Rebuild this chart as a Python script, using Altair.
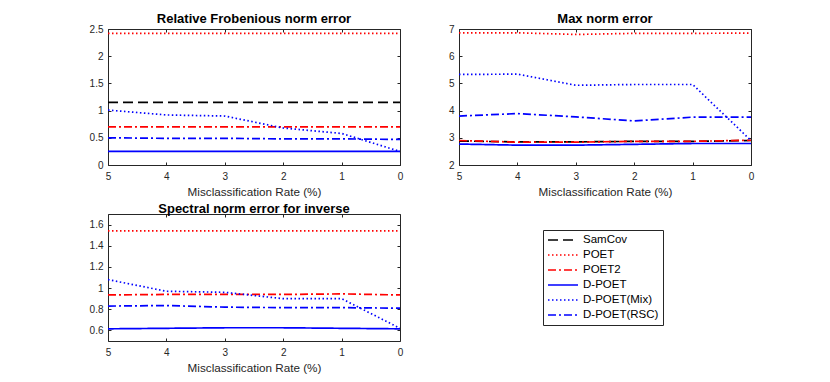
import altair as alt
import pandas as pd

rates = [5, 4, 3, 2, 1, 0]
methods = ["SamCov", "POET", "POET2", "D-POET", "D-POET(Mix)", "D-POET(RSC)"]
colors = ["#000000", "#ff0000", "#ff0000", "#0000ff", "#0000ff", "#0000ff"]
dashes = [[10, 5], [1.5, 2.5], [8, 3, 2, 3], [1, 0], [1.5, 2.5], [8, 3, 2, 3]]

# Relative Frobenius norm error
fro_samcov = [1.15, 1.15, 1.15, 1.15, 1.15, 1.15]
fro_poet = [2.42, 2.42, 2.42, 2.42, 2.42, 2.42]
fro_poet2 = [0.70, 0.70, 0.70, 0.70, 0.70, 0.70]
fro_dpoet = [0.25, 0.25, 0.25, 0.25, 0.25, 0.25]
fro_mix = [1.01, 0.92, 0.90, 0.68, 0.58, 0.25]
fro_rsc = [0.50, 0.49, 0.49, 0.48, 0.48, 0.47]

# Max norm error
max_samcov = [2.88, 2.85, 2.85, 2.87, 2.87, 2.90]
max_poet = [6.86, 6.86, 6.80, 6.84, 6.84, 6.85]
max_poet2 = [2.90, 2.84, 2.84, 2.87, 2.87, 2.91]
max_dpoet = [2.77, 2.73, 2.73, 2.76, 2.79, 2.79]
max_mix = [5.33, 5.34, 4.93, 4.96, 4.96, 2.90]
max_rsc = [3.80, 3.89, 3.77, 3.62, 3.76, 3.76]

# Spectral norm error for inverse (SamCov not shown)
inv_poet = [1.54, 1.54, 1.54, 1.54, 1.54, 1.54]
inv_poet2 = [0.935, 0.94, 0.94, 0.94, 0.945, 0.935]
inv_dpoet = [0.615, 0.62, 0.625, 0.625, 0.62, 0.615]
inv_mix = [1.08, 0.97, 0.96, 0.90, 0.90, 0.62]
inv_rsc = [0.83, 0.835, 0.82, 0.815, 0.815, 0.81]

fro_ticks = [0, 0.5, 1, 1.5, 2, 2.5]
max_ticks = [2, 3, 4, 5, 6, 7]
inv_ticks = [0.6, 0.8, 1, 1.2, 1.4, 1.6]

rows = []
def add(panel, method, vals):
    for r, v in zip(rates, vals):
        rows.append({"panel": panel, "method": method, "rate": r, "value": v})

for m, v in zip(methods, [fro_samcov, fro_poet, fro_poet2, fro_dpoet, fro_mix, fro_rsc]):
    add("fro", m, v)
for m, v in zip(methods, [max_samcov, max_poet, max_poet2, max_dpoet, max_mix, max_rsc]):
    add("max", m, v)
for m, v in zip(methods[1:], [inv_poet, inv_poet2, inv_dpoet, inv_mix, inv_rsc]):
    add("inv", m, v)
df = pd.DataFrame(rows)
df["order"] = df["method"].map({m: i for i, m in enumerate(methods)})

FONT = "Liberation Sans"
GREY = "#262626"

legend_props = dict(title=None, orient="none", legendX=435, legendY=201,
                    symbolType="M-1,0L5,0", symbolSize=100)


def panel(key, title, ydomain, yticks, w, h):
    xscale = alt.Scale(domain=[0, 5], reverse=True, nice=False)
    yscale = alt.Scale(domain=ydomain, nice=False, zero=False)
    base = alt.Chart(df).transform_filter(alt.datum.panel == key)
    lines = base.mark_line(strokeWidth=1.7, clip=True).encode(
        x=alt.X("rate:Q", scale=xscale,
                axis=alt.Axis(values=rates, orient="bottom", offset=-3, tickSize=3,
                              domain=False, grid=False, format="d",
                              title="Misclassification Rate (%)", labelPadding=6,
                              titlePadding=5, labelFlush=False, labelOverlap=False)),
        y=alt.Y("value:Q", scale=yscale,
                axis=alt.Axis(values=yticks, orient="left", offset=-3, tickSize=3,
                              domain=False, grid=False, format="~g", title=None,
                              labelPadding=5, labelOverlap=False, labelFlush=False)),
        color=alt.Color("method:N", scale=alt.Scale(domain=methods, range=colors),
                        legend=alt.Legend(**legend_props)),
        strokeDash=alt.StrokeDash("method:N", scale=alt.Scale(domain=methods, range=dashes),
                                  legend=alt.Legend(**legend_props)),
        order="order:Q",
    )
    ghost = base.mark_line(opacity=0).encode(
        x=alt.X("rate:Q", scale=xscale,
                axis=alt.Axis(values=rates, orient="top", offset=-3, tickSize=3,
                              domain=False, grid=False, labels=False, title=None)),
        y=alt.Y("value:Q", scale=yscale,
                axis=alt.Axis(values=yticks, orient="right", offset=-3, tickSize=3,
                              domain=False, grid=False, labels=False, title=None)),
        detail="method:N",
    )
    return alt.layer(lines, ghost).resolve_axis(x="independent", y="independent").properties(
        width=w, height=h,
        title=alt.TitleParams(title, fontSize=13, fontWeight="bold", font=FONT,
                              color="black", offset=-2, frame="group"),
    )


tl = panel("fro", "Relative Frobenious norm error", [0, 2.5], fro_ticks, 292, 136)
tr = panel("max", "Max norm error", [2, 7], max_ticks, 292, 136)
bl = panel("inv", "Spectral norm error for inverse", [0.5, 1.7], inv_ticks, 292, 127)

chart = alt.concat(tl, tr, bl, columns=2, spacing={"row": 49, "column": 59},
                   bounds="flush").properties(
    padding={"left": 80, "top": 4, "right": 5, "bottom": 5}
).configure_view(stroke=GREY, strokeWidth=1).configure_axis(
    labelFont=FONT, titleFont=FONT, labelFontSize=10, titleFontSize=11.7,
    labelColor=GREY, titleColor=GREY, tickColor=GREY, titleFontWeight="normal",
).configure_legend(
    strokeColor=GREY, fillColor="white", padding=4, labelFont=FONT,
    labelFontSize=11.5, labelColor="black", symbolStrokeWidth=1.7,
    rowPadding=3, labelOffset=24, cornerRadius=0,
)

chart.save("out.html", embed_options={"renderer": "svg", "actions": False})
